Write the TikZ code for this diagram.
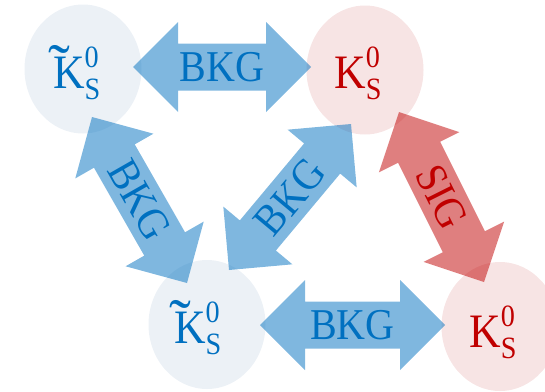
\documentclass[tikz,border=0pt]{standalone}
\usepackage{fontspec}
\usepackage{graphicx}
\setmainfont[FakeStretch=0.91]{Liberation Serif}
\usetikzlibrary{calc,shapes.geometric}
\definecolor{myblue}{HTML}{0070C0}
\definecolor{myred}{HTML}{C00000}
\definecolor{ellblue}{HTML}{ECF1F6}
\definecolor{ellred}{HTML}{F7E4E4}
\newcommand\dblarrow[3]{%
  \coordinate (hA) at ($(#1)!45pt!(#2)$);
  \coordinate (hB) at ($(#2)!45pt!(#1)$);
  \fill[#3] (#1) -- ($(hA)!45pt!90:(#2)$) -- ($(hA)!23.5pt!90:(#2)$)
    -- ($(hB)!23.5pt!-90:(#1)$) -- ($(hB)!45pt!-90:(#1)$) -- (#2)
    -- ($(hB)!45pt!90:(#1)$) -- ($(hB)!23.5pt!90:(#1)$)
    -- ($(hA)!23.5pt!-90:(#2)$) -- ($(hA)!45pt!-90:(#2)$) -- cycle;}
\newcommand\kso[1]{{\fontsize{48pt}{48pt}\selectfont #1}\rlap{\raisebox{21pt}{\fontsize{31pt}{31pt}\selectfont 0}}\raisebox{-11pt}{\fontsize{31pt}{31pt}\selectfont S}}
\newcommand\tK{\rlap{\hspace{-4.5pt}\raisebox{1pt}{\scalebox{1.5}[1.3]{˜}}}K}
\tikzset{
  ellb/.style={ellipse, fill=ellblue, inner sep=0, minimum width=117pt, minimum height=129pt},
  ellr/.style={ellipse, fill=ellred, inner sep=0, minimum width=117pt, minimum height=129pt},
  barrow/.style={fill=myblue, fill opacity=0.5},
  rarrow/.style={fill=myred, fill opacity=0.5},
  lbl/.style={font=\fontsize{44pt}{44pt}\selectfont, inner sep=0, midway, sloped},
  ktext/.style={anchor=base west, inner sep=0}
}
\begin{document}
\begin{tikzpicture}[x=1pt, y=-1pt]
\useasboundingbox (0,0) rectangle (545,391);
\clip (0,0) rectangle (545,391);
% ellipses
\node[ellb] (tl) at (83,69) {};
\node[ellr] (tr) at (365,70) {};
\node[ellb] (bl) at (207,324.5) {};
\node[ellr] (br) at (500,326.5) {};
% arrow tips
\coordinate (a1) at (133,67);  \coordinate (b1) at (311,67);
\coordinate (a2) at (260,325); \coordinate (b2) at (445,325);
\coordinate (a3) at (92,117);  \coordinate (b3) at (187,283);
\coordinate (a4) at (229,270); \coordinate (b4) at (351,124);
\coordinate (a5) at (399,112); \coordinate (b5) at (484,282);
% arrows
\dblarrow{a1}{b1}{barrow}
\dblarrow{a2}{b2}{barrow}
\dblarrow{a3}{b3}{barrow}
\dblarrow{a4}{b4}{barrow}
\dblarrow{a5}{b5}{rarrow}
% arrow labels
\path (a1) -- node[lbl, text=myblue] (l1) {BKG} (b1);
\path (a2) -- node[lbl, text=myblue] (l2) {BKG} (b2);
\path (a3) -- node[lbl, text=myblue] (l3) {BKG} (b3);
\path (a4) -- node[lbl, text=myblue] (l4) {BKG} (b4);
\path (a5) -- node[lbl, text=myred] (l5) {SIG} (b5);
% particle labels
\node[ktext, text=myblue] (ktl) at (53,88) {\kso{\tK}};
\node[ktext, text=myred] (ktr) at (334,88) {\kso{K}};
\node[ktext, text=myblue] (kbl) at (174,343) {\kso{\tK}};
\node[ktext, text=myred] (kbr) at (469,347) {\kso{K}};
\end{tikzpicture}
\end{document}
